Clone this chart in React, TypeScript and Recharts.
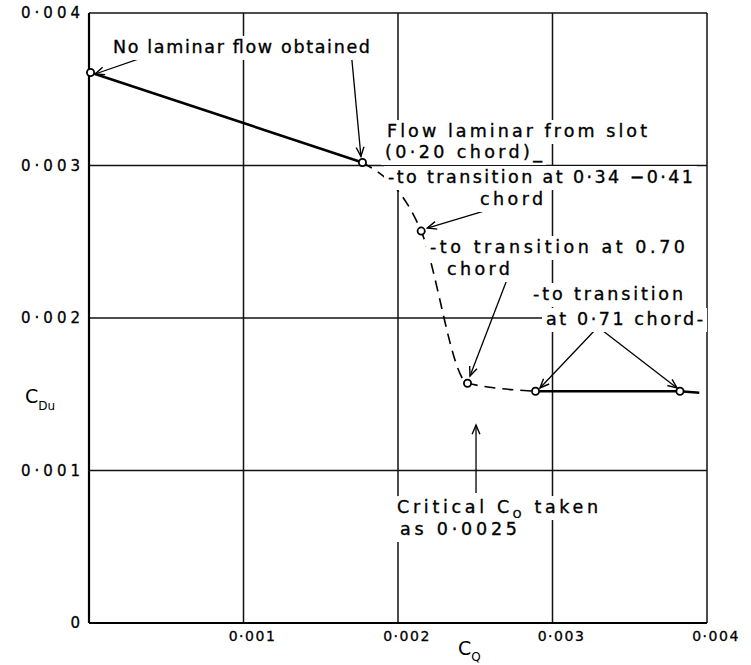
import React from 'react';
import { ComposedChart, Line, Scatter, XAxis, YAxis, CartesianGrid } from 'recharts';

// axis ticks and their hand-lettered labels
const axisTicks = [0, 0.001, 0.002, 0.003, 0.004];
const tickText = ['0', '0·001', '0·002', '0·003', '0·004'];

// measured points: C_Q against C_Du
const cq = [0.00001, 0.00177, 0.00215, 0.00245, 0.00289, 0.003825];
const cdu = [0.00361, 0.00302, 0.00257, 0.001572, 0.00152, 0.00152];
// the faired solid line runs on past the last point
const endCq = 0.00395;
const endCdu = 0.00151;

// annotation arrows (start -> head)
const arrowX1 = [0.00044, 0.0017, 0.002647, 0.002712, 0.003294, 0.003294, 0.002505];
const arrowY1 = [0.00374, 0.003711, 0.002728, 0.002269, 0.001941, 0.001941, 0.000852];
const arrowX2 = [0.00004, 0.00176, 0.00219, 0.002466, 0.002919, 0.003806, 0.002505];
const arrowY2 = [0.0036, 0.00306, 0.00259, 0.00162, 0.001541, 0.001541, 0.001298];

// annotation text, anchored at left end of its baseline (~X marks a subscript)
const noteText = [
  'No laminar flow obtained',
  'Flow laminar from slot',
  '(0·20 chord)_',
  '-to transition at 0·34 −0·41',
  'chord',
  '-to transition at 0.70',
  'chord',
  '-to transition',
  'at 0·71 chord-',
  'Critical C~Q taken',
  'as 0·0025',
];
const noteX = [0.000155, 0.001929, 0.001916, 0.001935, 0.002531, 0.002207, 0.002317, 0.002874, 0.002958, 0.001994, 0.002013];
const noteY = [0.003738, 0.003187, 0.003049, 0.002885, 0.002741, 0.002426, 0.002282, 0.002118, 0.001954, 0.000721, 0.000577];
const noteWidth = [257, 260, 157, 305, 63, 255, 63, 150, 157, 201, 117];

const font = '"DejaVu Sans", sans-serif';

const pts = cq.map((x, i) => ({ x, y: cdu[i] }));
const solidStart = pts.slice(0, 2);
const dashed = pts.slice(1, 5);
const solidEnd = [...pts.slice(4), { x: endCq, y: endCdu }];
const arrows = arrowX1.map((x, i) => [
  { x, y: arrowY1[i] },
  { x: arrowX2[i], y: arrowY2[i] },
]);
const notes = noteText.map((t, i) => ({ x: noteX[i], y: noteY[i], t, w: noteWidth[i] }));

const ArrowHead = (props: any) => {
  const { cx, cy, index, points } = props;
  if (index !== 1 || !points || !points[0]) return <g key={props.key} />;
  const p0 = points[0];
  const a = Math.atan2(cy - p0.y, cx - p0.x);
  const L = 10;
  const w = 0.4;
  const xa = cx - L * Math.cos(a - w);
  const ya = cy - L * Math.sin(a - w);
  const xb = cx - L * Math.cos(a + w);
  const yb = cy - L * Math.sin(a + w);
  return (
    <path
      key={props.key}
      d={`M${xa},${ya} L${cx},${cy} L${xb},${yb}`}
      fill="none"
      stroke="#000"
      strokeWidth={1.4}
    />
  );
};

const renderNote = (t: string) => {
  const k = t.indexOf('~');
  if (k < 0) return t;
  return (
    <>
      {t.slice(0, k)}
      <tspan dy={5} fontSize={11}>{t[k + 1]}</tspan>
      <tspan dy={-5}>{t.slice(k + 2)}</tspan>
    </>
  );
};

const NoteShape = (props: any) => {
  const { cx, cy, payload } = props;
  return (
    <g>
      <rect x={cx - 4} y={cy - 17} width={payload.w + 8} height={24} fill="#fff" />
      <text
        x={cx}
        y={cy}
        fontSize={17.5}
        fontFamily={font}
        fill="#000"
        stroke="#000"
        strokeWidth={0.35}
        textLength={payload.w}
        lengthAdjust="spacing"
      >
        {renderNote(payload.t)}
      </text>
    </g>
  );
};

const PointShape = (props: any) => (
  <circle cx={props.cx} cy={props.cy} r={3.6} fill="#fff" stroke="#000" strokeWidth={1.8} />
);

const XTick = (props: any) => {
  const { x, y, payload } = props;
  const i = axisTicks.indexOf(payload.value);
  if (i <= 0) return <g />;
  return (
    <text x={x + 9} y={y} dy="0.35em" textAnchor="middle" fontSize={14} letterSpacing={1.5} fontFamily={font} fill="#000" stroke="#000" strokeWidth={0.3}>
      {tickText[i]}
    </text>
  );
};

const YTick = (props: any) => {
  const { x, y, payload } = props;
  const i = axisTicks.indexOf(payload.value);
  return (
    <text x={x + 4} y={y} dy="0.35em" textAnchor="end" fontSize={15} letterSpacing={4} fontFamily={font} fill="#000" stroke="#000" strokeWidth={0.3}>
      {tickText[i]}
    </text>
  );
};

const XLabel = (props: any) => {
  const vb = props.viewBox;
  return (
    <text x={vb.x + 369} y={vb.y + 32} fontSize={19} fontFamily={font} fill="#000">
      C<tspan dy={6} fontSize={12}>Q</tspan>
    </text>
  );
};

const YLabel = (props: any) => {
  const vb = props.viewBox;
  return (
    <text x={vb.x + 5} y={vb.y + 390} fontSize={19} fontFamily={font} fill="#000">
      C<tspan dy={7} fontSize={12}>Du</tspan>
    </text>
  );
};

export default function App() {
  return (
    <div style={{ position: 'absolute', left: 0, top: 0, background: '#fff' }}>
      <ComposedChart width={751} height={665} margin={{ top: 13, right: 44, bottom: 12, left: 20 }}>
        <CartesianGrid stroke="#111" strokeWidth={1.5} />
        <XAxis
          type="number"
          dataKey="x"
          domain={[0, 0.004]}
          ticks={axisTicks}
          interval={0}
          tickLine={false}
          tickSize={0}
          tickMargin={13}
          height={30}
          axisLine={{ stroke: '#000', strokeWidth: 2.2 }}
          tick={<XTick />}
          label={XLabel}
        />
        <YAxis
          type="number"
          dataKey="y"
          domain={[0, 0.004]}
          ticks={axisTicks}
          interval={0}
          tickLine={false}
          tickSize={0}
          tickMargin={9}
          width={69}
          axisLine={{ stroke: '#000', strokeWidth: 2.2 }}
          tick={<YTick />}
          label={YLabel}
        />
        <Scatter data={notes} dataKey="y" shape={NoteShape} isAnimationActive={false} />
        <Line data={solidStart} dataKey="y" type="linear" stroke="#000" strokeWidth={2.6} dot={false} isAnimationActive={false} />
        <Line
          data={dashed}
          dataKey="y"
          type="monotone"
          stroke="#000"
          strokeWidth={1.6}
          strokeDasharray="11 7"
          dot={false}
          isAnimationActive={false}
        />
        <Line data={solidEnd} dataKey="y" type="linear" stroke="#000" strokeWidth={2.6} dot={false} isAnimationActive={false} />
        {arrows.map((a, i) => (
          <Line
            key={'arrow' + i}
            data={a}
            dataKey="y"
            type="linear"
            stroke="#000"
            strokeWidth={1.3}
            dot={ArrowHead}
            activeDot={false}
            isAnimationActive={false}
          />
        ))}
        <Scatter data={pts} dataKey="y" shape={PointShape} isAnimationActive={false} />
      </ComposedChart>
    </div>
  );
}
